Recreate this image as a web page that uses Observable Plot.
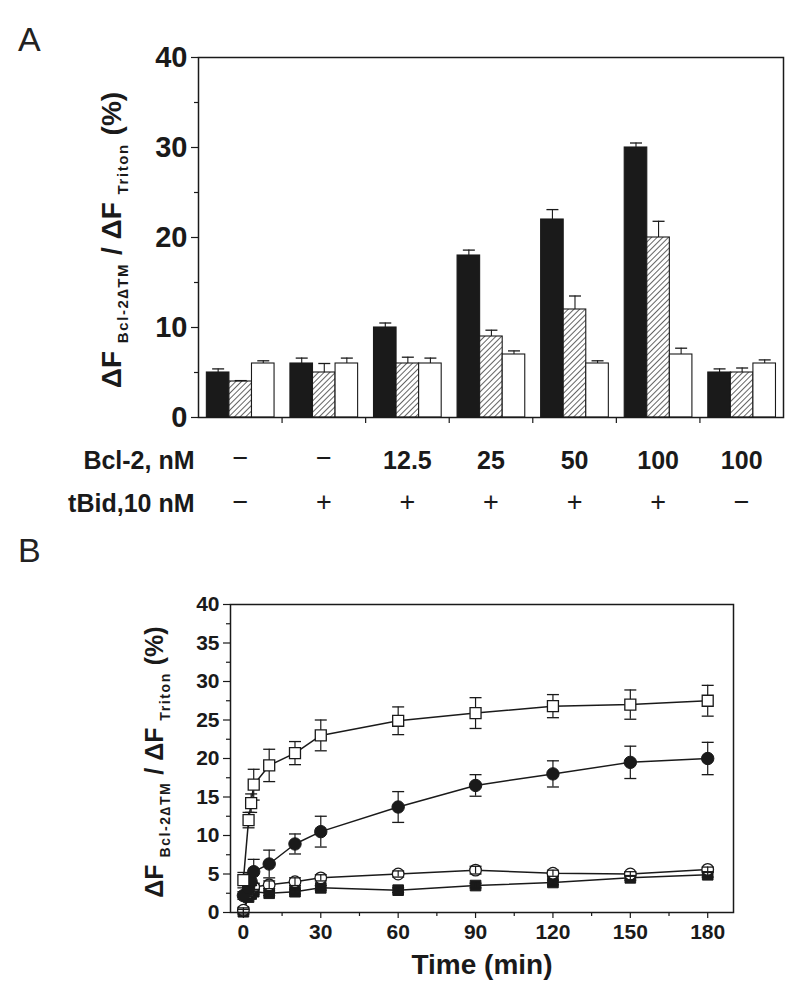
<!DOCTYPE html>
<html>
<head>
<meta charset="utf-8">
<script src="https://cdn.jsdelivr.net/npm/d3@7"></script>
<script src="https://cdn.jsdelivr.net/npm/@observablehq/plot@0.6"></script>
<style>
  html, body { margin: 0; padding: 0; background: #fff; }
  #wrap { position: relative; width: 800px; height: 1000px; overflow: hidden; font-family: "Liberation Sans", Arial, sans-serif; color: #1a1a1a; }
  .panel { position: absolute; left: 0; }
  .plabel { position: absolute; font-family: "Liberation Sans Narrow", "Liberation Sans", Arial, sans-serif; font-weight: normal; font-size: 34px; color: #222; line-height: 1; }
  .ylab { position: absolute; transform: translate(-50%, -50%) rotate(-90deg); white-space: nowrap; font-weight: bold; line-height: 1; color: #1a1a1a; }
  .ylab .sub { letter-spacing: 1.6px; position: relative; top: 7px; }
</style>
</head>
<body>
<div id="wrap">
  <svg width="0" height="0" style="position:absolute">
    <defs>
      <pattern id="hatch" patternUnits="userSpaceOnUse" width="4" height="4" patternTransform="rotate(45)">
        <rect width="4" height="4" fill="#fff"></rect>
        <line x1="0" y1="0" x2="0" y2="4" stroke="#111" stroke-width="1.3"></line>
      </pattern>
    </defs>
  </svg>
  <div class="plabel" style="left:18px; top:22px;">A</div>
  <div class="plabel" style="left:18px; top:533px;">B</div>
  <div id="panelA" class="panel" style="top:0px;"></div>
  <div id="panelB" class="panel" style="top:530px;"></div>
  <div class="ylab" style="left:112px; top:240px; font-size:28px;">ΔF <span class="sub" style="font-size:15px;">Bcl-2∆TM</span> / ΔF <span class="sub" style="font-size:15px;">Triton</span> (%)</div>
  <div class="ylab" style="left:154px; top:762px; font-size:25px;">ΔF <span class="sub" style="font-size:14px;">Bcl-2∆TM</span> / ΔF <span class="sub" style="font-size:14px;">Triton</span> (%)</div>
</div>
<script>
// ---------- Panel A data ----------
const groupIndex = [0, 1, 2, 3, 4, 5, 6];
const bcl2Labels = ["−", "−", "12.5", "25", "50", "100", "100"];
const tbidLabels = ["−", "+", "+", "+", "+", "+", "−"];
const rowLabels = ["Bcl-2, nM", "tBid,10 nM"];
const seriesA = ["solid", "hatched", "open"];
const solidValues = [5, 6, 10, 18, 22, 30, 5];
const solidErrors = [0.4, 0.6, 0.5, 0.6, 1.1, 0.5, 0.4];
const hatchedValues = [4, 5, 6, 9, 12, 20, 5];
const hatchedErrors = [0.1, 1.0, 0.7, 0.7, 1.5, 1.8, 0.5];
const openValues = [6, 6, 6, 7, 6, 7, 6];
const openErrors = [0.3, 0.6, 0.6, 0.4, 0.3, 0.7, 0.4];
const yTicksA = [0, 10, 20, 30, 40];
const yMinorA = [5, 15, 25, 35];

// ---------- Panel B data ----------
const times = [0, 2, 3, 4, 10, 20, 30, 60, 90, 120, 150, 180];
const openSquareValues = [4.2, 12.0, 14.2, 16.6, 19.1, 20.7, 23.0, 24.9, 25.9, 26.8, 27.0, 27.5];
const openSquareErrors = [1.0, 1.0, 1.2, 2.0, 2.1, 1.5, 2.0, 1.8, 2.0, 1.5, 1.9, 2.0];
const filledCircleValues = [2.2, 3.2, 4.0, 5.3, 6.3, 8.9, 10.5, 13.7, 16.5, 18.0, 19.5, 20.0];
const filledCircleErrors = [0.5, 0.8, 1.0, 1.6, 1.8, 1.3, 2.0, 2.0, 1.4, 1.7, 2.1, 2.1];
const openCircleValues = [0.3, 2.6, 3.0, 3.3, 3.6, 4.0, 4.5, 5.0, 5.5, 5.1, 5.0, 5.6];
const openCircleErrors = [0.3, 0.5, 0.5, 0.5, 0.5, 0.5, 0.4, 0.4, 0.5, 0.4, 0.3, 0.3];
const filledSquareValues = [0.1, 2.0, 2.4, 2.7, 2.5, 2.7, 3.2, 2.9, 3.5, 3.9, 4.5, 4.9];
const filledSquareErrors = [0.3, 0.3, 0.3, 0.3, 0.3, 0.3, 0.3, 0.3, 0.3, 0.3, 0.3, 0.3];
const xTicksB = [0, 30, 60, 90, 120, 150, 180];
const xMinorB = [15, 45, 75, 105, 135, 165];
const yTicksB = [0, 5, 10, 15, 20, 25, 30, 35, 40];
const yMinorB = [2.5, 7.5, 12.5, 17.5, 22.5, 27.5, 32.5, 37.5];
const xLabelB = "Time (min)";

// ---------- helpers ----------
const ink = "#1a1a1a";
const capSymbol = {
  draw(ctx, size) {
    const r = Math.sqrt(size / Math.PI);
    ctx.moveTo(-r, 0);
    ctx.lineTo(r, 0);
  }
};

// ---------- Panel A ----------
const valuesBySeries = {solid: solidValues, hatched: hatchedValues, open: openValues};
const errorsBySeries = {solid: solidErrors, hatched: hatchedErrors, open: openErrors};
const fillBySeries = {solid: ink, hatched: "url(#hatch)", open: "#fff"};
const tableA = [];
seriesA.forEach((s, j) => {
  groupIndex.forEach(i => {
    tableA.push({series: s, si: j, gi: i, value: valuesBySeries[s][i], err: errorsBySeries[s][i]});
  });
});
const barStart = 0.1, barWidth = 0.27;
const left = d => d.gi + barStart + d.si * barWidth;
const center = d => left(d) + barWidth / 2;

const fontMain = "'Liberation Sans', Arial, sans-serif";

const plotA = Plot.plot({
  width: 800,
  height: 530,
  marginLeft: 198,
  marginRight: 17,
  marginTop: 57,
  marginBottom: 113,
  x: {domain: [0, 7]},
  y: {domain: [0, 40]},
  style: {fontFamily: fontMain, color: ink, background: "transparent", overflow: "visible"},
  marks: [
    ...seriesA.map(s => Plot.rectY(tableA.filter(d => d.series === s), {
      x1: left, x2: d => left(d) + barWidth, y1: 0, y2: "value",
      fill: fillBySeries[s], stroke: ink, strokeWidth: 1.1
    })),
    Plot.ruleX(tableA, {x: center, y1: "value", y2: d => d.value + d.err, stroke: ink, strokeWidth: 1.1}),
    Plot.dot(tableA, {x: center, y: d => d.value + d.err, symbol: capSymbol, r: 6, stroke: ink, fill: "none", strokeWidth: 1.3}),
    Plot.axisY(yTicksA, {tickSize: 7, tickPadding: 4, fontSize: 29, fontWeight: "bold", label: null, stroke: ink, strokeWidth: 1.2, fontFamily: "'Liberation Sans Narrow', 'Liberation Sans', Arial, sans-serif"}),
    Plot.axisY(yMinorA, {tickSize: 4, text: null, label: null, stroke: ink, strokeWidth: 1.2}),
    Plot.axisX(d3.range(1, 7), {tickSize: 6, text: null, label: null, stroke: ink, strokeWidth: 1.2}),
    Plot.frame({stroke: ink, strokeWidth: 1.5}),
    Plot.text(bcl2Labels, {filter: d => d !== "−", x: (d, i) => i + 0.5, text: d => d, frameAnchor: "bottom", dy: 51, fontSize: 25, fontWeight: "bold", fill: ink}),
    Plot.text(bcl2Labels, {filter: d => d === "−", x: (d, i) => i + 0.5, text: d => d, frameAnchor: "bottom", dy: 49, fontSize: 27, fontWeight: 300, fill: ink}),
    Plot.text(tbidLabels, {x: (d, i) => i + 0.5, text: d => d, frameAnchor: "bottom", dy: 93, fontSize: 27, fontWeight: 300, fill: ink}),
    Plot.text(rowLabels, {text: d => d, frameAnchor: "bottom-left", dx: -4, textAnchor: "end", fontSize: 25, fontWeight: "bold", fill: ink, filter: (d, i) => i === 0, dy: 51}),
    Plot.text(rowLabels, {text: d => d, frameAnchor: "bottom-left", dx: -4, textAnchor: "end", fontSize: 25, fontWeight: "bold", fill: ink, filter: (d, i) => i === 1, dy: 94})
  ]
});
document.getElementById("panelA").appendChild(plotA);

// ---------- Panel B ----------
function makeSeries(values, errors) {
  return times.map((t, i) => ({t, v: values[i], e: errors[i]}));
}
const sOpenSq = makeSeries(openSquareValues, openSquareErrors);
const sFillCi = makeSeries(filledCircleValues, filledCircleErrors);
const sOpenCi = makeSeries(openCircleValues, openCircleErrors);
const sFillSq = makeSeries(filledSquareValues, filledSquareErrors);

function errMarks(data) {
  return [
    Plot.ruleX(data, {x: "t", y1: d => d.v - d.e, y2: d => d.v + d.e, stroke: ink, strokeWidth: 1.2}),
    Plot.dot(data, {x: "t", y: d => d.v + d.e, symbol: capSymbol, r: 6, stroke: ink, fill: "none", strokeWidth: 1.3}),
    Plot.dot(data, {x: "t", y: d => d.v - d.e, symbol: capSymbol, r: 6, stroke: ink, fill: "none", strokeWidth: 1.3})
  ];
}

const plotB = Plot.plot({
  width: 800,
  height: 470,
  marginLeft: 230,
  marginRight: 67,
  marginTop: 74,
  marginBottom: 88,
  x: {domain: [-5, 190]},
  y: {domain: [0, 40]},
  style: {fontFamily: fontMain, color: ink, background: "transparent", overflow: "visible"},
  marks: [
    ...errMarks(sOpenSq),
    ...errMarks(sFillCi),
    Plot.line(sOpenSq, {x: "t", y: "v", stroke: ink, strokeWidth: 1.5}),
    Plot.line(sFillCi, {x: "t", y: "v", stroke: ink, strokeWidth: 1.5}),
    Plot.line(sOpenCi, {x: "t", y: "v", stroke: ink, strokeWidth: 1.5}),
    Plot.line(sFillSq, {x: "t", y: "v", stroke: ink, strokeWidth: 1.5}),
    Plot.dot(sFillSq, {x: "t", y: "v", symbol: "square", r: 6, fill: ink, stroke: ink, strokeWidth: 1}),
    Plot.dot(sOpenCi, {x: "t", y: "v", symbol: "circle", r: 5.8, fill: "#fff", stroke: ink, strokeWidth: 1.3}),
    ...errMarks(sOpenCi),
    ...errMarks(sFillSq),
    Plot.dot(sFillCi, {x: "t", y: "v", symbol: "circle", r: 6.2, fill: ink, stroke: ink, strokeWidth: 1}),
    Plot.dot(sOpenSq, {x: "t", y: "v", symbol: "square", r: 6.2, fill: "#fff", stroke: ink, strokeWidth: 1.3}),
    Plot.axisY(yTicksB, {tickSize: 7, tickPadding: 4, fontSize: 21, fontWeight: "bold", label: null, stroke: ink, strokeWidth: 1.2}),
    Plot.axisY(yMinorB, {tickSize: 4, text: null, label: null, stroke: ink, strokeWidth: 1.2}),
    Plot.axisX(xTicksB, {tickSize: 6, tickPadding: 6, fontSize: 21, fontWeight: "bold", label: null, stroke: ink, strokeWidth: 1.2}),
    Plot.axisX(xMinorB, {tickSize: 4, text: null, label: null, stroke: ink, strokeWidth: 1.2}),
    Plot.frame({stroke: ink, strokeWidth: 1.5}),
    Plot.text([xLabelB], {text: d => d, frameAnchor: "bottom", dy: 61, fontSize: 28, fontWeight: "bold", fill: ink})
  ]
});
document.getElementById("panelB").appendChild(plotB);
</script>
</body>
</html>
